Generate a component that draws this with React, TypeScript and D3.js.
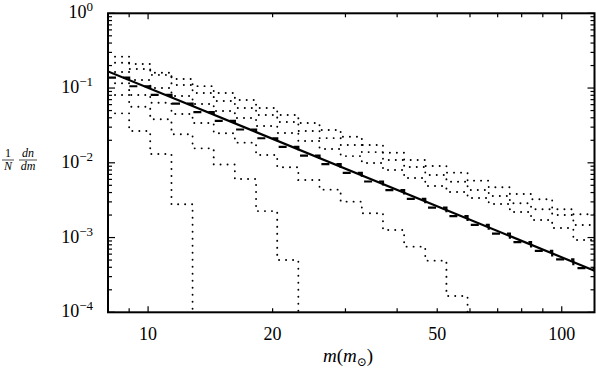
import React from 'react'
import * as d3 from 'd3'

// mass bins (log-uniform, 23 bins from 8 to 120 solar masses)
const binEdges = [8, 9.0, 10.12, 11.39, 12.81, 14.41, 16.21, 18.24, 20.52, 23.08, 25.97, 29.21,
  32.86, 36.97, 41.59, 46.78, 52.63, 59.2, 66.6, 74.92, 84.29, 94.82, 106.67, 120]

// dotted histograms (0 = empty bin)
const histA = [0.263, 0.21, 0.16, 0.132, 0.106, 0.0859, 0.0692, 0.0541, 0.0436, 0.0341, 0.0275, 0.0223,
  0.0173, 0.0136, 0.0109, 0.00906, 0.00738, 0.00577, 0.0047, 0.00383, 0.00325, 0.00239, 0.00205]
const histB = [0.218, 0.18, 0.15, 0.11, 0.0859, 0.0671, 0.0541, 0.0436, 0.0352, 0.0266, 0.0214, 0.0173,
  0.0139, 0.0109, 0.00878, 0.00686, 0.00558, 0.00433, 0.0036, 0.00287, 0.00239, 0.002, 0.00147]
const histC = [0.164, 0.128, 0.1, 0.0783, 0.0612, 0.0493, 0.0397, 0.0311, 0.025, 0.0196, 0.0153, 0.0123,
  0.00994, 0.00801, 0.00626, 0.00489, 0.00407, 0.00338, 0.00281, 0.0022, 0.00172, 0.00134, 0.000928]
const histD = [0.116, 0.0807, 0.0637, 0.045, 0.0341, 0.0248, 0.0186, 0.0127, 0.00871, 0.00589, 0.00437, 0.00302,
  0.00211, 0.00126, 0.000755, 0.000491, 0.000165, 0, 0, 0, 0, 0, 0]
const histE = [0.0807, 0.0563, 0.0382, 0.0241, 0.0156, 0.00949, 0.00607, 0.00226, 0.000501, 0, 0, 0,
  0, 0, 0, 0, 0, 0, 0, 0, 0, 0, 0]
const histF = [0.0459, 0.0266, 0.0131, 0.00279, 0, 0, 0, 0, 0, 0, 0, 0,
  0, 0, 0, 0, 0, 0, 0, 0, 0, 0, 0]
const dottedSeries = [histA, histB, histC, histD, histE, histF]

// dashed histogram (total sample)
const histTotal = [0.138, 0.1057, 0.0809, 0.062, 0.0475, 0.0364, 0.0279, 0.0213, 0.0163, 0.0125, 0.00958, 0.00733,
  0.00562, 0.0043, 0.0033, 0.00252, 0.00193, 0.00148, 0.00113, 0.000868, 0.000665, 0.000509, 0.00039]

// fitted power law (solid)
const fitMass = [8, 120]
const fitValue = [0.167, 0.00036]

const xTicksMajor = [10, 20, 50, 100]
const xTicksLong = [10, 100]
const xTicksMinor = [9, 30, 40, 60, 70, 80, 90]
const yExponents = [0, -1, -2, -3, -4]

const W = 596
const H = 375
const left = 108
const right = 594.5
const top = 13.3
const bottom = 312.3

const x = d3.scaleLog().domain([8, 120]).range([left, right])
const y = d3.scaleLog().domain([1e-4, 1]).range([bottom, top])

const histPath = (vals: number[]) => {
  const pts: [number, number][] = []
  for (let k = 0; k < vals.length; k++) {
    if (vals[k] <= 0) {
      pts.push([x(binEdges[k]), bottom])
      break
    }
    pts.push([x(binEdges[k]), y(vals[k])])
    pts.push([x(binEdges[k + 1]), y(vals[k])])
  }
  return d3.line()(pts) || ''
}

export default function App() {
  const serif = "'Liberation Serif', 'DejaVu Serif', serif"
  const minorY: number[] = []
  for (let e = -4; e < 0; e++) for (let m = 2; m <= 9; m++) minorY.push(m * Math.pow(10, e))

  const fitLine = d3.line<number>()
    .x((_, i) => x(fitMass[i]))
    .y((d) => y(d))(fitValue) || ''

  return (
    <svg width={W} height={H} style={{ position: 'absolute', left: 0, top: 0, background: '#fff' }}>
      <defs>
        <clipPath id="plot">
          <rect x={left} y={top} width={right - left} height={bottom - top} />
        </clipPath>
      </defs>
      <g clipPath="url(#plot)">
        {dottedSeries.map((s, i) => (
          <path key={i} d={histPath(s)} fill="none" stroke="#000" strokeWidth={1.9}
            strokeDasharray="0.1 6.9" strokeLinecap="round" />
        ))}
        <path d={histPath(histTotal)} fill="none" stroke="#000" strokeWidth={2.2} strokeDasharray="8 7" />
        <path d={fitLine} fill="none" stroke="#000" strokeWidth={2.2} />
      </g>

      {/* ticks */}
      <g stroke="#000" strokeWidth={1.2}>
        {[...xTicksMajor, ...xTicksMinor].map((t) => {
          const len = xTicksLong.includes(t) ? 6 : 4
          return (
            <g key={'x' + t}>
              <line x1={x(t)} x2={x(t)} y1={bottom} y2={bottom - len} />
              <line x1={x(t)} x2={x(t)} y1={top} y2={top + len} />
            </g>
          )
        })}
        {yExponents.map((e) => (
          <g key={'y' + e}>
            <line x1={left} x2={left + 7} y1={y(Math.pow(10, e))} y2={y(Math.pow(10, e))} />
            <line x1={right} x2={right - 7} y1={y(Math.pow(10, e))} y2={y(Math.pow(10, e))} />
          </g>
        ))}
        {minorY.map((v, i) => (
          <g key={'m' + i}>
            <line x1={left} x2={left + 4} y1={y(v)} y2={y(v)} />
            <line x1={right} x2={right - 4} y1={y(v)} y2={y(v)} />
          </g>
        ))}
      </g>

      <rect x={left} y={top} width={right - left} height={bottom - top} fill="none" stroke="#000" strokeWidth={2} />

      {/* x tick labels */}
      {xTicksMajor.map((t) => (
        <text key={'xl' + t} x={x(t)} y={340} textAnchor="middle" fontFamily={serif} fontSize={18}>{t}</text>
      ))}
      {/* y tick labels */}
      {yExponents.map((e) => {
        const yy = y(Math.pow(10, e)) + 5
        const sup = e === 0 ? '0' : '\u2212' + Math.abs(e)
        return (
          <text key={'yl' + e} x={93} y={yy} textAnchor="end" fontFamily={serif} fontSize={18}>
            10<tspan dy={-7} fontSize={13}>{sup}</tspan>
          </text>
        )
      })}

      {/* x axis title */}
      <text x={348} y={362} textAnchor="middle" fontFamily={serif} fontSize={19}>
        <tspan fontStyle="italic">m</tspan>(<tspan fontStyle="italic">m</tspan>
        <tspan dy={4} fontSize={12}>{'\u2299'}</tspan><tspan dy={-4}>)</tspan>
      </text>

      {/* y axis title: 1/N dn/dm */}
      <g fontFamily={serif} fontSize={12} textAnchor="middle">
        <text x={8} y={157}>1</text>
        <line x1={2} x2={14} y1={160} y2={160} stroke="#000" strokeWidth={0.7} />
        <text x={8} y={170} fontStyle="italic">N</text>
        <text x={28} y={157} fontStyle="italic">dn</text>
        <line x1={19} x2={37} y1={160} y2={160} stroke="#000" strokeWidth={0.7} />
        <text x={28} y={170} fontStyle="italic">dm</text>
      </g>
    </svg>
  )
}
